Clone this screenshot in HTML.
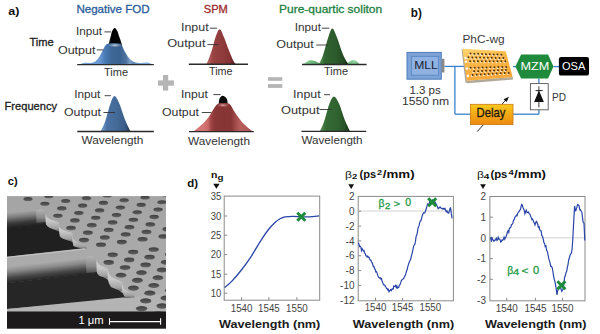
<!DOCTYPE html>
<html><head><meta charset="utf-8"><style>
html,body{margin:0;padding:0;background:#fff;width:600px;height:334px;overflow:hidden}
svg{display:block}
text{font-family:"Liberation Sans", sans-serif}
</style></head><body>
<svg width="600" height="334" viewBox="0 0 600 334">
<defs><linearGradient id="gb1" gradientUnits="userSpaceOnUse" x1="78" y1="0" x2="154" y2="0"><stop offset="0.000" stop-color="#7aa8d8"/><stop offset="0.184" stop-color="#6a9ad4"/><stop offset="0.289" stop-color="#6896d0"/><stop offset="0.355" stop-color="#4a7ab6"/><stop offset="0.434" stop-color="#3e6898"/><stop offset="0.553" stop-color="#3a6290"/><stop offset="0.632" stop-color="#4d72a0"/><stop offset="0.684" stop-color="#7d9ec4"/><stop offset="0.737" stop-color="#5b82b2"/><stop offset="0.816" stop-color="#7aa6d6"/><stop offset="1.000" stop-color="#7aa8d8"/></linearGradient><linearGradient id="gblk" gradientUnits="userSpaceOnUse" x1="108" y1="0" x2="123" y2="0"><stop offset="0.000" stop-color="#2a2a2a"/><stop offset="0.267" stop-color="#000"/><stop offset="0.800" stop-color="#050505"/><stop offset="1.000" stop-color="#333"/></linearGradient><radialGradient id="hl1"><stop offset="0" stop-color="#d4dae2" stop-opacity="0.9"/><stop offset="1" stop-color="#9ab0c8" stop-opacity="0"/></radialGradient><linearGradient id="gr1" gradientUnits="userSpaceOnUse" x1="206" y1="0" x2="236" y2="0"><stop offset="0.000" stop-color="#c07070"/><stop offset="0.100" stop-color="#b05a5a"/><stop offset="0.233" stop-color="#984242"/><stop offset="0.600" stop-color="#8e3a3a"/><stop offset="0.800" stop-color="#843232"/><stop offset="0.900" stop-color="#6a2222"/><stop offset="1.000" stop-color="#3a1010"/></linearGradient><linearGradient id="gg1" gradientUnits="userSpaceOnUse" x1="318" y1="0" x2="349" y2="0"><stop offset="0.000" stop-color="#5a9a5a"/><stop offset="0.097" stop-color="#4a864a"/><stop offset="0.226" stop-color="#31642f"/><stop offset="0.581" stop-color="#2c5a2c"/><stop offset="0.839" stop-color="#234a23"/><stop offset="0.935" stop-color="#163016"/><stop offset="1.000" stop-color="#102010"/></linearGradient><linearGradient id="glob" gradientUnits="userSpaceOnUse" x1="303" y1="0" x2="360" y2="0"><stop offset="0.000" stop-color="#9ad6a6"/><stop offset="0.123" stop-color="#74c084"/><stop offset="0.263" stop-color="#5aa86a"/><stop offset="0.789" stop-color="#74c084"/><stop offset="0.912" stop-color="#8ad09a"/><stop offset="1.000" stop-color="#5aa86a"/></linearGradient><linearGradient id="gb2" gradientUnits="userSpaceOnUse" x1="100" y1="0" x2="131" y2="0"><stop offset="0.000" stop-color="#7aa2d2"/><stop offset="0.097" stop-color="#6890c4"/><stop offset="0.226" stop-color="#4c72a4"/><stop offset="0.581" stop-color="#426896"/><stop offset="0.806" stop-color="#3a5c88"/><stop offset="0.919" stop-color="#2a4468"/><stop offset="1.000" stop-color="#142038"/></linearGradient><linearGradient id="gr2" gradientUnits="userSpaceOnUse" x1="193" y1="0" x2="253" y2="0"><stop offset="0.000" stop-color="#d27474"/><stop offset="0.167" stop-color="#d47676"/><stop offset="0.250" stop-color="#ca6868"/><stop offset="0.300" stop-color="#a04444"/><stop offset="0.367" stop-color="#883636"/><stop offset="0.633" stop-color="#863434"/><stop offset="0.700" stop-color="#a04a4a"/><stop offset="0.783" stop-color="#b65c5c"/><stop offset="0.917" stop-color="#b05656"/><stop offset="1.000" stop-color="#904040"/></linearGradient><radialGradient id="hl2"><stop offset="0" stop-color="#e8b4b4" stop-opacity="0.9"/><stop offset="1" stop-color="#c07070" stop-opacity="0"/></radialGradient><linearGradient id="gg2" gradientUnits="userSpaceOnUse" x1="319" y1="0" x2="351" y2="0"><stop offset="0.000" stop-color="#5a965a"/><stop offset="0.094" stop-color="#4a824a"/><stop offset="0.219" stop-color="#346a34"/><stop offset="0.594" stop-color="#306230"/><stop offset="0.812" stop-color="#285028"/><stop offset="0.922" stop-color="#183418"/><stop offset="1.000" stop-color="#0a180a"/></linearGradient><linearGradient id="gchip" x1="0" y1="0" x2="0.4" y2="1"><stop offset="0" stop-color="#ffd870"/><stop offset="0.45" stop-color="#fbb848"/><stop offset="1" stop-color="#f5a838"/></linearGradient><linearGradient id="gdelay" x1="0" y1="0" x2="0" y2="1"><stop offset="0" stop-color="#f9c81e"/><stop offset="1" stop-color="#ec8a10"/></linearGradient><clipPath id="semclip"><rect x="7" y="196.1" width="159" height="115.5"/></clipPath><linearGradient id="gsurf" x1="0" y1="0" x2="0" y2="1"><stop offset="0" stop-color="#a4a4a4"/><stop offset="1" stop-color="#b0b0b0"/></linearGradient><linearGradient id="gw1" x1="0" y1="0" x2="0" y2="1"><stop offset="0" stop-color="#a2a2a2"/><stop offset="0.3" stop-color="#7e7e7e"/><stop offset="0.7" stop-color="#3c3c3c"/><stop offset="1" stop-color="#232323"/></linearGradient><linearGradient id="gw2" x1="0" y1="0" x2="0" y2="1"><stop offset="0" stop-color="#a8a8a8"/><stop offset="0.3" stop-color="#8a8a8a"/><stop offset="0.7" stop-color="#474747"/><stop offset="1" stop-color="#282828"/></linearGradient><linearGradient id="gst" x1="0" y1="0" x2="0" y2="1"><stop offset="0" stop-color="#cacaca"/><stop offset="0.6" stop-color="#b4b4b4"/><stop offset="1" stop-color="#7a7a7a"/></linearGradient><linearGradient id="ghole" x1="0" y1="0" x2="0" y2="1"><stop offset="0" stop-color="#3e3e3e"/><stop offset="1" stop-color="#606060"/></linearGradient><linearGradient id="gface" x1="0" y1="0" x2="0" y2="1"><stop offset="0" stop-color="#dadada"/><stop offset="0.5" stop-color="#c6c6c6"/><stop offset="0.85" stop-color="#a2a2a2"/><stop offset="1" stop-color="#707070"/></linearGradient><linearGradient id="gw1u" gradientUnits="userSpaceOnUse" x1="25" y1="211.2" x2="26.5" y2="226.5"><stop offset="0" stop-color="#a4a4a4"/><stop offset="0.3" stop-color="#7e7e7e"/><stop offset="0.7" stop-color="#3a3a3a"/><stop offset="1" stop-color="#202020"/></linearGradient><linearGradient id="gnotch" x1="0" y1="0" x2="0" y2="1"><stop offset="0" stop-color="#b4b4b4"/><stop offset="0.6" stop-color="#8a8a8a"/><stop offset="1" stop-color="#505050"/></linearGradient><linearGradient id="gw2u" gradientUnits="userSpaceOnUse" x1="50" y1="262.0" x2="51.8" y2="278.0"><stop offset="0" stop-color="#aaaaaa"/><stop offset="0.3" stop-color="#8a8a8a"/><stop offset="0.7" stop-color="#464646"/><stop offset="1" stop-color="#262626"/></linearGradient></defs>
<text x="8.2" y="15.2" font-size="11.5" fill="#111" font-weight="bold" textLength="11.2" lengthAdjust="spacingAndGlyphs" >a)</text>
<text x="76.4" y="13.1" font-size="11.2" fill="#2b5c9a" font-weight="normal" textLength="73.3" lengthAdjust="spacingAndGlyphs"  stroke="#2b5c9a" stroke-width="0.3">Negative FOD</text>
<text x="203.8" y="13.2" font-size="11.2" fill="#9a2a2a" font-weight="normal" textLength="24.0" lengthAdjust="spacingAndGlyphs"  stroke="#9a2a2a" stroke-width="0.3">SPM</text>
<text x="279.1" y="13.2" font-size="11.2" fill="#1e8040" font-weight="normal" textLength="103.1" lengthAdjust="spacingAndGlyphs"  stroke="#1e8040" stroke-width="0.3">Pure-quartic soliton</text>
<text x="29.4" y="45.6" font-size="11.6" fill="#1a1a1a" font-weight="normal" textLength="24.3" lengthAdjust="spacingAndGlyphs"  stroke="#1a1a1a" stroke-width="0.3">Time</text>
<text x="4.6" y="110.0" font-size="11.6" fill="#1a1a1a" font-weight="normal" textLength="52.4" lengthAdjust="spacingAndGlyphs"  stroke="#1a1a1a" stroke-width="0.3">Frequency</text>
<path d="M108.30,46.00 C108.48,45.17 108.98,42.67 109.40,41.00 C109.82,39.33 110.33,37.67 110.80,36.00 C111.27,34.33 111.55,32.33 112.20,31.00 C112.85,29.67 113.85,28.00 114.70,28.00 C115.55,28.00 116.58,29.67 117.30,31.00 C118.02,32.33 118.42,34.33 119.00,36.00 C119.58,37.67 120.25,39.33 120.80,41.00 C121.35,42.67 122.05,45.17 122.30,46.00 Z" fill="url(#gblk)" />
<path d="M79.00,64.40 C79.83,64.15 82.33,63.13 84.00,62.90 C85.67,62.67 87.25,63.15 89.00,63.00 C90.75,62.85 92.92,62.83 94.50,62.00 C96.08,61.17 97.17,59.83 98.50,58.00 C99.83,56.17 101.33,53.13 102.50,51.00 C103.67,48.87 104.42,46.43 105.50,45.20 C106.58,43.97 107.58,43.93 109.00,43.60 C110.42,43.27 112.25,43.20 114.00,43.20 C115.75,43.20 118.20,43.27 119.50,43.60 C120.80,43.93 120.97,43.97 121.80,45.20 C122.63,46.43 123.30,48.87 124.50,51.00 C125.70,53.13 127.42,56.17 129.00,58.00 C130.58,59.83 132.17,61.18 134.00,62.00 C135.83,62.82 137.83,62.80 140.00,62.90 C142.17,63.00 144.83,62.35 147.00,62.60 C149.17,62.85 152.00,64.10 153.00,64.40 Z" fill="url(#gb1)" />
<ellipse cx="115" cy="45.2" rx="7" ry="2.2" fill="url(#hl1)"/>
<line x1="77.2" y1="64.6" x2="153.8" y2="64.6" stroke="#2a2a2a" stroke-width="1.4" />
<text x="75.9" y="34.9" font-size="10.0" fill="#333" font-weight="normal" textLength="26.0" lengthAdjust="spacingAndGlyphs" >Input</text>
<line x1="104.4" y1="31.9" x2="111.1" y2="31.9" stroke="#333" stroke-width="0.9" />
<text x="57.9" y="53.7" font-size="10.0" fill="#333" font-weight="normal" textLength="37.6" lengthAdjust="spacingAndGlyphs" >Output</text>
<line x1="96.7" y1="49.9" x2="103.7" y2="49.9" stroke="#333" stroke-width="0.9" />
<text x="104.0" y="75.6" font-size="10.4" fill="#333" font-weight="normal" textLength="24.0" lengthAdjust="spacingAndGlyphs" >Time</text>
<path d="M206.00,64.30 C206.33,63.72 207.03,63.13 208.00,60.80 C208.97,58.47 210.55,54.23 211.80,50.30 C213.05,46.37 214.18,40.72 215.50,37.20 C216.82,33.68 218.28,29.20 219.70,29.20 C221.12,29.20 222.47,33.68 224.00,37.20 C225.53,40.72 227.35,46.37 228.90,50.30 C230.45,54.23 232.12,58.47 233.30,60.80 C234.48,63.13 235.55,63.72 236.00,64.30 Z" fill="url(#gr1)" />
<line x1="188.8" y1="64.3" x2="248" y2="64.3" stroke="#2a2a2a" stroke-width="1.4" />
<text x="181.0" y="31.1" font-size="10.0" fill="#333" font-weight="normal" textLength="27.6" lengthAdjust="spacingAndGlyphs" >Input</text>
<line x1="209.8" y1="28.2" x2="217.0" y2="28.2" stroke="#333" stroke-width="0.9" />
<text x="167.2" y="47.4" font-size="10.0" fill="#333" font-weight="normal" textLength="38.3" lengthAdjust="spacingAndGlyphs" >Output</text>
<line x1="207.4" y1="44.6" x2="218.5" y2="44.6" stroke="#333" stroke-width="0.9" />
<text x="209.0" y="75.4" font-size="10.4" fill="#333" font-weight="normal" textLength="23.5" lengthAdjust="spacingAndGlyphs" >Time</text>
<path d="M303.50,64.30 C304.08,63.85 305.83,62.27 307.00,61.60 C308.17,60.93 309.33,60.43 310.50,60.30 C311.67,60.17 312.75,60.43 314.00,60.80 C315.25,61.17 316.83,61.92 318.00,62.50 C319.17,63.08 320.50,64.00 321.00,64.30 Z" fill="url(#glob)" />
<path d="M346.00,64.30 C346.67,63.78 348.77,61.87 350.00,61.20 C351.23,60.53 352.32,60.28 353.40,60.30 C354.48,60.32 355.48,60.63 356.50,61.30 C357.52,61.97 359.00,63.80 359.50,64.30 Z" fill="url(#glob)" />
<path d="M318.80,64.30 C319.30,63.30 320.87,60.62 321.80,58.30 C322.73,55.98 323.32,53.92 324.40,50.40 C325.48,46.88 326.98,40.85 328.30,37.20 C329.62,33.55 330.87,28.50 332.30,28.50 C333.73,28.50 335.37,33.55 336.90,37.20 C338.43,40.85 340.18,46.88 341.50,50.40 C342.82,53.92 343.65,55.98 344.80,58.30 C345.95,60.62 347.80,63.30 348.40,64.30 Z" fill="url(#gg1)" />
<line x1="302" y1="64.5" x2="366.6" y2="64.5" stroke="#2a2a2a" stroke-width="1.4" />
<text x="294.7" y="30.6" font-size="10.0" fill="#333" font-weight="normal" textLength="26.3" lengthAdjust="spacingAndGlyphs" >Input</text>
<line x1="321.7" y1="28.2" x2="329.4" y2="28.2" stroke="#333" stroke-width="0.9" />
<text x="276.3" y="48.3" font-size="10.0" fill="#333" font-weight="normal" textLength="37.5" lengthAdjust="spacingAndGlyphs" >Output</text>
<line x1="316.2" y1="45.0" x2="328.2" y2="45.0" stroke="#333" stroke-width="0.9" />
<text x="324.0" y="75.4" font-size="10.4" fill="#333" font-weight="normal" textLength="24.0" lengthAdjust="spacingAndGlyphs" >Time</text>
<path d="M100.50,131.30 C101.05,130.25 102.80,127.38 103.80,125.00 C104.80,122.62 105.38,120.58 106.50,117.00 C107.62,113.42 109.17,107.00 110.50,103.50 C111.83,100.00 113.03,96.00 114.50,96.00 C115.97,96.00 117.72,100.00 119.30,103.50 C120.88,107.00 122.67,113.42 124.00,117.00 C125.33,120.58 126.22,122.62 127.30,125.00 C128.38,127.38 129.97,130.25 130.50,131.30 Z" fill="url(#gb2)" />
<line x1="77.3" y1="131.5" x2="153.9" y2="131.5" stroke="#2a2a2a" stroke-width="1.4" />
<text x="74.2" y="98.4" font-size="10.0" fill="#333" font-weight="normal" textLength="26.2" lengthAdjust="spacingAndGlyphs" >Input</text>
<line x1="104.6" y1="95.7" x2="110.9" y2="95.7" stroke="#333" stroke-width="0.9" />
<text x="64.0" y="115.6" font-size="10.0" fill="#333" font-weight="normal" textLength="37.0" lengthAdjust="spacingAndGlyphs" >Output</text>
<line x1="103.5" y1="112.5" x2="115.0" y2="112.5" stroke="#333" stroke-width="0.9" />
<text x="81.5" y="144.0" font-size="10.4" fill="#333" font-weight="normal" textLength="61.9" lengthAdjust="spacingAndGlyphs" >Wavelength</text>
<path d="M218.80,104.60 C218.90,103.67 218.75,100.47 219.40,99.00 C220.05,97.53 221.45,95.80 222.70,95.80 C223.95,95.80 226.08,97.53 226.90,99.00 C227.72,100.47 227.48,103.67 227.60,104.60 Z" fill="#0d0d0d" />
<path d="M193.50,131.40 C195.08,130.07 200.47,125.80 203.00,123.40 C205.53,121.00 207.12,119.10 208.70,117.00 C210.28,114.90 211.03,112.97 212.50,110.80 C213.97,108.63 215.80,105.27 217.50,104.00 C219.20,102.73 220.70,103.20 222.70,103.20 C224.70,103.20 227.63,102.73 229.50,104.00 C231.37,105.27 232.45,108.63 233.90,110.80 C235.35,112.97 236.63,114.90 238.20,117.00 C239.77,119.10 240.92,121.00 243.30,123.40 C245.68,125.80 250.97,130.07 252.50,131.40 Z" fill="url(#gr2)" />
<ellipse cx="223" cy="105.2" rx="6.5" ry="2.2" fill="url(#hl2)"/>
<line x1="189" y1="131.6" x2="253.8" y2="131.6" stroke="#2a2a2a" stroke-width="1.4" />
<text x="181.0" y="97.5" font-size="10.0" fill="#333" font-weight="normal" textLength="27.0" lengthAdjust="spacingAndGlyphs" >Input</text>
<line x1="213.4" y1="94.6" x2="220.6" y2="94.6" stroke="#333" stroke-width="0.9" />
<text x="162.0" y="115.5" font-size="10.0" fill="#333" font-weight="normal" textLength="37.0" lengthAdjust="spacingAndGlyphs" >Output</text>
<line x1="201.8" y1="112.5" x2="211.3" y2="112.5" stroke="#333" stroke-width="0.9" />
<text x="188.0" y="144.6" font-size="10.4" fill="#333" font-weight="normal" textLength="62.0" lengthAdjust="spacingAndGlyphs" >Wavelength</text>
<path d="M319.80,131.30 C320.30,130.25 321.85,127.38 322.80,125.00 C323.75,122.62 324.38,120.58 325.50,117.00 C326.62,113.42 328.08,106.93 329.50,103.50 C330.92,100.07 332.42,96.40 334.00,96.40 C335.58,96.40 337.38,100.07 339.00,103.50 C340.62,106.93 342.37,113.42 343.70,117.00 C345.03,120.58 345.95,122.62 347.00,125.00 C348.05,127.38 349.50,130.25 350.00,131.30 Z" fill="url(#gg2)" />
<line x1="301.5" y1="131.4" x2="366.2" y2="131.4" stroke="#2a2a2a" stroke-width="1.4" />
<text x="293.1" y="98.3" font-size="10.0" fill="#333" font-weight="normal" textLength="27.6" lengthAdjust="spacingAndGlyphs" >Input</text>
<line x1="324" y1="94.7" x2="330" y2="94.7" stroke="#333" stroke-width="0.9" />
<text x="281.0" y="114.3" font-size="10.0" fill="#333" font-weight="normal" textLength="38.5" lengthAdjust="spacingAndGlyphs" >Output</text>
<line x1="319.5" y1="109.5" x2="331.4" y2="109.5" stroke="#333" stroke-width="0.9" />
<text x="301.5" y="144.3" font-size="10.4" fill="#333" font-weight="normal" textLength="61.1" lengthAdjust="spacingAndGlyphs" >Wavelength</text>
<rect x="163.0" y="75.0" width="5.2" height="15.6" fill="#b5b5b5"/>
<rect x="158.0" y="80.4" width="15.9" height="5.3" fill="#b5b5b5"/>
<rect x="268" y="77.2" width="14.3" height="3.6" fill="#b5b5b5"/>
<rect x="268" y="84.1" width="14.3" height="3.8" fill="#b5b5b5"/>
<text x="410.8" y="16.9" font-size="12.0" fill="#111" font-weight="bold" textLength="11.0" lengthAdjust="spacingAndGlyphs" >b)</text>
<text x="462.4" y="43.2" font-size="11.0" fill="#3a3a3a" font-weight="normal" textLength="42.2" lengthAdjust="spacingAndGlyphs" >PhC-wg</text>
<line x1="444.4" y1="66.4" x2="464" y2="66.4" stroke="#3a82cc" stroke-width="1.3" />
<line x1="454.9" y1="66.4" x2="454.9" y2="114.2" stroke="#3a82cc" stroke-width="1.3" />
<line x1="454.9" y1="114.2" x2="470.4" y2="114.2" stroke="#3a82cc" stroke-width="1.3" />
<line x1="513" y1="114.2" x2="538.9" y2="114.2" stroke="#3a82cc" stroke-width="1.3" />
<line x1="538.9" y1="114.2" x2="538.9" y2="110" stroke="#3a82cc" stroke-width="1.3" />
<line x1="538.9" y1="78.6" x2="538.9" y2="83.4" stroke="#3a82cc" stroke-width="1.3" />
<line x1="513" y1="66.6" x2="516" y2="66.6" stroke="#3a82cc" stroke-width="1.3" />
<line x1="553.5" y1="66.6" x2="559" y2="66.6" stroke="#3a82cc" stroke-width="1.3" />
<rect x="407" y="52.4" width="34.3" height="26.8" fill="#7ea3d6" stroke="#4d7fbf" stroke-width="1"/>
<rect x="411.6" y="56.4" width="27" height="18.8" fill="#8fb2e2" stroke="#5a88c4" stroke-width="0.9"/>
<rect x="441.5" y="58.8" width="2.9" height="13.7" fill="#888"/>
<text x="414.2" y="69.3" font-size="11.0" fill="#1a2030" font-weight="normal" textLength="23.5" lengthAdjust="spacingAndGlyphs" >MLL</text>
<text x="409.4" y="94.0" font-size="10.6" fill="#333" font-weight="normal" textLength="31.4" lengthAdjust="spacingAndGlyphs" >1.3 ps</text>
<text x="402.0" y="105.3" font-size="10.6" fill="#333" font-weight="normal" textLength="47.2" lengthAdjust="spacingAndGlyphs" >1550 nm</text>
<polygon points="461.6,49.6 463.5,48.6 467,80.8 512.7,77.1 513,79.5 467.5,83.2 465.5,82.5" fill="#b0a898"/>
<polygon points="462.4,48.8 505.8,51.3 512.7,77.1 466.8,80.8" fill="url(#gchip)"/>
<circle cx="469.75" cy="54.46" r="1.05" fill="#fffaf0" opacity="0.9"/><circle cx="470.45" cy="53.56" r="1.0" fill="#5a3408"/><circle cx="473.60" cy="54.60" r="1.05" fill="#fffaf0" opacity="0.9"/><circle cx="474.30" cy="53.70" r="1.0" fill="#5a3408"/><circle cx="477.45" cy="54.74" r="1.05" fill="#fffaf0" opacity="0.9"/><circle cx="478.15" cy="53.84" r="1.0" fill="#5a3408"/><circle cx="481.30" cy="54.89" r="1.05" fill="#fffaf0" opacity="0.9"/><circle cx="482.00" cy="53.99" r="1.0" fill="#5a3408"/><circle cx="485.15" cy="55.03" r="1.05" fill="#fffaf0" opacity="0.9"/><circle cx="485.85" cy="54.13" r="1.0" fill="#5a3408"/><circle cx="489.00" cy="55.18" r="1.05" fill="#fffaf0" opacity="0.9"/><circle cx="489.70" cy="54.28" r="1.0" fill="#5a3408"/><circle cx="492.85" cy="55.32" r="1.05" fill="#fffaf0" opacity="0.9"/><circle cx="493.55" cy="54.42" r="1.0" fill="#5a3408"/><circle cx="496.70" cy="55.46" r="1.05" fill="#fffaf0" opacity="0.9"/><circle cx="497.40" cy="54.56" r="1.0" fill="#5a3408"/><circle cx="500.55" cy="55.61" r="1.05" fill="#fffaf0" opacity="0.9"/><circle cx="501.25" cy="54.71" r="1.0" fill="#5a3408"/><circle cx="467.71" cy="58.27" r="1.05" fill="#fffaf0" opacity="0.9"/><circle cx="468.41" cy="57.37" r="1.0" fill="#5a3408"/><circle cx="471.59" cy="58.35" r="1.05" fill="#fffaf0" opacity="0.9"/><circle cx="472.29" cy="57.45" r="1.0" fill="#5a3408"/><circle cx="475.47" cy="58.43" r="1.05" fill="#fffaf0" opacity="0.9"/><circle cx="476.17" cy="57.53" r="1.0" fill="#5a3408"/><circle cx="479.35" cy="58.50" r="1.05" fill="#fffaf0" opacity="0.9"/><circle cx="480.05" cy="57.60" r="1.0" fill="#5a3408"/><circle cx="483.22" cy="58.58" r="1.05" fill="#fffaf0" opacity="0.9"/><circle cx="483.92" cy="57.68" r="1.0" fill="#5a3408"/><circle cx="487.10" cy="58.65" r="1.05" fill="#fffaf0" opacity="0.9"/><circle cx="487.80" cy="57.75" r="1.0" fill="#5a3408"/><circle cx="490.98" cy="58.73" r="1.05" fill="#fffaf0" opacity="0.9"/><circle cx="491.68" cy="57.83" r="1.0" fill="#5a3408"/><circle cx="494.86" cy="58.80" r="1.05" fill="#fffaf0" opacity="0.9"/><circle cx="495.56" cy="57.90" r="1.0" fill="#5a3408"/><circle cx="498.73" cy="58.88" r="1.05" fill="#fffaf0" opacity="0.9"/><circle cx="499.43" cy="57.98" r="1.0" fill="#5a3408"/><circle cx="502.61" cy="58.95" r="1.05" fill="#fffaf0" opacity="0.9"/><circle cx="503.31" cy="58.05" r="1.0" fill="#5a3408"/><circle cx="465.42" cy="57.95" r="1.3" fill="#fff" opacity="0.85"/><circle cx="469.38" cy="62.04" r="1.05" fill="#fffaf0" opacity="0.9"/><circle cx="470.08" cy="61.14" r="1.0" fill="#5a3408"/><circle cx="473.29" cy="62.05" r="1.05" fill="#fffaf0" opacity="0.9"/><circle cx="473.99" cy="61.15" r="1.0" fill="#5a3408"/><circle cx="477.19" cy="62.06" r="1.05" fill="#fffaf0" opacity="0.9"/><circle cx="477.89" cy="61.16" r="1.0" fill="#5a3408"/><circle cx="481.09" cy="62.07" r="1.05" fill="#fffaf0" opacity="0.9"/><circle cx="481.79" cy="61.17" r="1.0" fill="#5a3408"/><circle cx="485.00" cy="62.08" r="1.05" fill="#fffaf0" opacity="0.9"/><circle cx="485.70" cy="61.18" r="1.0" fill="#5a3408"/><circle cx="488.90" cy="62.08" r="1.05" fill="#fffaf0" opacity="0.9"/><circle cx="489.60" cy="61.18" r="1.0" fill="#5a3408"/><circle cx="492.81" cy="62.09" r="1.05" fill="#fffaf0" opacity="0.9"/><circle cx="493.51" cy="61.19" r="1.0" fill="#5a3408"/><circle cx="496.71" cy="62.10" r="1.05" fill="#fffaf0" opacity="0.9"/><circle cx="497.41" cy="61.20" r="1.0" fill="#5a3408"/><circle cx="500.61" cy="62.11" r="1.05" fill="#fffaf0" opacity="0.9"/><circle cx="501.31" cy="61.21" r="1.0" fill="#5a3408"/><circle cx="504.52" cy="62.12" r="1.05" fill="#fffaf0" opacity="0.9"/><circle cx="505.22" cy="61.22" r="1.0" fill="#5a3408"/><circle cx="465.96" cy="61.76" r="1.3" fill="#fff" opacity="0.85"/><circle cx="469.95" cy="68.75" r="1.05" fill="#fffaf0" opacity="0.9"/><circle cx="470.65" cy="67.85" r="1.0" fill="#5a3408"/><circle cx="473.90" cy="68.64" r="1.05" fill="#fffaf0" opacity="0.9"/><circle cx="474.60" cy="67.74" r="1.0" fill="#5a3408"/><circle cx="477.85" cy="68.53" r="1.05" fill="#fffaf0" opacity="0.9"/><circle cx="478.55" cy="67.63" r="1.0" fill="#5a3408"/><circle cx="481.81" cy="68.43" r="1.05" fill="#fffaf0" opacity="0.9"/><circle cx="482.51" cy="67.53" r="1.0" fill="#5a3408"/><circle cx="485.76" cy="68.32" r="1.05" fill="#fffaf0" opacity="0.9"/><circle cx="486.46" cy="67.42" r="1.0" fill="#5a3408"/><circle cx="489.71" cy="68.21" r="1.05" fill="#fffaf0" opacity="0.9"/><circle cx="490.41" cy="67.31" r="1.0" fill="#5a3408"/><circle cx="493.66" cy="68.10" r="1.05" fill="#fffaf0" opacity="0.9"/><circle cx="494.36" cy="67.20" r="1.0" fill="#5a3408"/><circle cx="497.61" cy="68.00" r="1.05" fill="#fffaf0" opacity="0.9"/><circle cx="498.31" cy="67.10" r="1.0" fill="#5a3408"/><circle cx="501.56" cy="67.89" r="1.05" fill="#fffaf0" opacity="0.9"/><circle cx="502.26" cy="66.99" r="1.0" fill="#5a3408"/><circle cx="505.51" cy="67.78" r="1.05" fill="#fffaf0" opacity="0.9"/><circle cx="506.21" cy="66.88" r="1.0" fill="#5a3408"/><circle cx="466.93" cy="68.59" r="1.3" fill="#fff" opacity="0.85"/><circle cx="473.43" cy="72.21" r="1.05" fill="#fffaf0" opacity="0.9"/><circle cx="474.13" cy="71.31" r="1.0" fill="#5a3408"/><circle cx="477.41" cy="72.04" r="1.05" fill="#fffaf0" opacity="0.9"/><circle cx="478.11" cy="71.14" r="1.0" fill="#5a3408"/><circle cx="481.38" cy="71.87" r="1.05" fill="#fffaf0" opacity="0.9"/><circle cx="482.08" cy="70.97" r="1.0" fill="#5a3408"/><circle cx="485.36" cy="71.70" r="1.05" fill="#fffaf0" opacity="0.9"/><circle cx="486.06" cy="70.80" r="1.0" fill="#5a3408"/><circle cx="489.34" cy="71.53" r="1.05" fill="#fffaf0" opacity="0.9"/><circle cx="490.04" cy="70.63" r="1.0" fill="#5a3408"/><circle cx="493.31" cy="71.36" r="1.05" fill="#fffaf0" opacity="0.9"/><circle cx="494.01" cy="70.46" r="1.0" fill="#5a3408"/><circle cx="497.29" cy="71.19" r="1.05" fill="#fffaf0" opacity="0.9"/><circle cx="497.99" cy="70.29" r="1.0" fill="#5a3408"/><circle cx="501.27" cy="71.02" r="1.05" fill="#fffaf0" opacity="0.9"/><circle cx="501.97" cy="70.12" r="1.0" fill="#5a3408"/><circle cx="505.24" cy="70.85" r="1.05" fill="#fffaf0" opacity="0.9"/><circle cx="505.94" cy="69.95" r="1.0" fill="#5a3408"/><circle cx="471.95" cy="75.88" r="1.05" fill="#fffaf0" opacity="0.9"/><circle cx="472.65" cy="74.98" r="1.0" fill="#5a3408"/><circle cx="475.95" cy="75.64" r="1.05" fill="#fffaf0" opacity="0.9"/><circle cx="476.65" cy="74.74" r="1.0" fill="#5a3408"/><circle cx="479.95" cy="75.41" r="1.05" fill="#fffaf0" opacity="0.9"/><circle cx="480.65" cy="74.51" r="1.0" fill="#5a3408"/><circle cx="483.95" cy="75.18" r="1.05" fill="#fffaf0" opacity="0.9"/><circle cx="484.65" cy="74.28" r="1.0" fill="#5a3408"/><circle cx="487.95" cy="74.94" r="1.05" fill="#fffaf0" opacity="0.9"/><circle cx="488.65" cy="74.04" r="1.0" fill="#5a3408"/><circle cx="491.95" cy="74.71" r="1.05" fill="#fffaf0" opacity="0.9"/><circle cx="492.65" cy="73.81" r="1.0" fill="#5a3408"/><circle cx="495.96" cy="74.48" r="1.05" fill="#fffaf0" opacity="0.9"/><circle cx="496.66" cy="73.58" r="1.0" fill="#5a3408"/><circle cx="499.96" cy="74.25" r="1.05" fill="#fffaf0" opacity="0.9"/><circle cx="500.66" cy="73.35" r="1.0" fill="#5a3408"/><circle cx="503.96" cy="74.01" r="1.05" fill="#fffaf0" opacity="0.9"/><circle cx="504.66" cy="73.11" r="1.0" fill="#5a3408"/><circle cx="507.96" cy="73.78" r="1.05" fill="#fffaf0" opacity="0.9"/><circle cx="508.66" cy="72.88" r="1.0" fill="#5a3408"/><circle cx="467.96" cy="75.89" r="1.3" fill="#fff" opacity="0.85"/>
<polygon points="515.4,66.6 521.1,54.4 548.1,54.4 553.5,66.6 548.1,78.6 521.1,78.6" fill="#1f8a3c"/>
<text x="520.4" y="69.6" font-size="11.0" fill="#fff" font-weight="normal" textLength="28.8" lengthAdjust="spacingAndGlyphs" >MZM</text>
<rect x="558.9" y="57" width="30.1" height="18.6" rx="2.2" fill="#000"/>
<text x="562.0" y="69.6" font-size="11.0" fill="#fff" font-weight="normal" textLength="23.4" lengthAdjust="spacingAndGlyphs" >OSA</text>
<rect x="530.4" y="83.6" width="17.8" height="26.2" fill="#fff" stroke="#555" stroke-width="0.9"/>
<line x1="538.9" y1="86.4" x2="538.9" y2="107.3" stroke="#222" stroke-width="0.9" />
<line x1="535.6" y1="90.6" x2="542.7" y2="90.6" stroke="#222" stroke-width="1.0" />
<polygon points="538.9,90.6 534.1,101.9 543.9,101.9" fill="#111"/>
<text x="552.0" y="100.5" font-size="10.6" fill="#333" font-weight="normal" textLength="14.0" lengthAdjust="spacingAndGlyphs" >PD</text>
<line x1="477.2" y1="131.6" x2="506.5" y2="99.2" stroke="#111" stroke-width="0.9" />
<polygon points="508.9,96.8 503.6,99.2 506.7,102.0" fill="#111"/>
<rect x="470.4" y="104.3" width="42.6" height="20.3" fill="url(#gdelay)" stroke="#c97a12" stroke-width="0.8"/>
<text x="476.5" y="117.4" font-size="12.2" fill="#22180a" font-weight="normal" textLength="28.8" lengthAdjust="spacingAndGlyphs"  stroke="#22180a" stroke-width="0.3">Delay</text>
<text x="7.8" y="184.5" font-size="11.5" fill="#111" font-weight="bold" textLength="9.9" lengthAdjust="spacingAndGlyphs" >c)</text>
<g clip-path="url(#semclip)"><rect x="7" y="196.1" width="159" height="115.5" fill="url(#gsurf)"/><polygon points="5.0,212.8 36.0,210.6 45.2,211.6 46.0,225.0 5.0,229.2" fill="url(#gw1u)"/><polygon points="5.0,228.8 45.6,224.5 58.7,231.2 72.2,241.7 85.0,248.4 5.0,257.0" fill="#202020"/><polygon points="36.0,210.8 38.5,209.6 42.0,209.3 45.2,211.7 46.0,222.0 36.5,223.0" fill="url(#gnotch)"/><polygon points="45.2,211.7 45.6,214.5 46.7,217.0 49.0,218.8 52.0,220.0 55.5,221.3 58.7,222.2 59.1,231.2 55.9,230.3 52.4,229.0 49.4,227.8 47.1,226.0 46.0,223.5 45.6,220.7" fill="url(#gface)"/><polygon points="58.7,222.2 59.0,225.0 59.5,227.5 61.5,229.2 64.7,230.4 68.5,231.8 72.2,232.7 72.6,241.7 68.9,240.8 65.1,239.4 61.9,238.2 59.9,236.5 59.4,234.0 59.1,231.2" fill="url(#gface)"/><polygon points="72.2,232.7 72.5,235.8 73.0,238.7 75.2,240.8 78.2,242.4 81.5,244.0 86.0,245.2 86.4,248.7 81.9,248.4 78.6,247.7 75.6,247.1 73.4,245.9 72.9,243.9 72.6,241.7" fill="url(#gface)"/><polygon points="5.0,266.5 88.0,257.0 96.2,258.2 97.0,273.2 5.0,283.5" fill="url(#gw2u)"/><polygon points="85.5,257.4 88.5,256.0 92.5,256.0 96.2,258.2 97.0,272.0 86.5,273.0" fill="url(#gnotch)"/><polygon points="5.0,283.2 97.0,272.8 107.5,279.5 121.7,292.4 133.0,298.5 5.0,309.2" fill="#262626"/><polygon points="96.2,258.2 96.8,261.5 98.5,264.2 100.5,265.5 103.0,266.5 105.5,267.7 107.5,268.7 107.9,278.7 105.9,278.0 103.4,277.2 100.9,276.5 98.9,275.5 97.2,273.2 96.6,270.2" fill="url(#gface)"/><polygon points="107.5,268.7 108.5,272.5 110.5,276.2 113.3,277.8 116.4,279.2 119.0,280.4 121.7,281.4 122.1,291.4 119.4,290.6 116.8,289.5 113.7,288.3 110.9,286.9 108.9,283.3 107.9,279.7" fill="url(#gface)"/><polygon points="121.7,281.4 122.5,285.0 124.0,289.0 126.0,290.3 128.4,291.2 131.0,292.0 134.0,292.7 134.4,297.7 131.4,297.7 128.8,297.5 126.4,297.3 124.4,296.7 122.9,293.3 122.1,290.4" fill="url(#gface)"/><polygon points="5.0,309.2 123.0,297.5 134.0,297.7 166.0,293.0 166.0,311.5 5.0,311.5" fill="#b4b4b4"/><path d="M5,257.6 L85,248.8" stroke="#c8c8c8" stroke-width="1.4" fill="none" opacity="0.8"/><ellipse cx="101.0" cy="244.8" rx="5.047899999999999" ry="2.31874" fill="url(#ghole)"/><ellipse cx="121.8" cy="242.1" rx="5.0206" ry="2.3023599999999997" fill="url(#ghole)"/><ellipse cx="142.6" cy="239.3" rx="4.9933" ry="2.28598" fill="url(#ghole)"/><ellipse cx="163.4" cy="236.6" rx="4.965999999999999" ry="2.2695999999999996" fill="url(#ghole)"/><ellipse cx="84.0" cy="240.1" rx="5.0009" ry="2.2905399999999996" fill="url(#ghole)"/><ellipse cx="104.8" cy="237.4" rx="4.973599999999999" ry="2.2741599999999997" fill="url(#ghole)"/><ellipse cx="125.7" cy="234.6" rx="4.9463" ry="2.25778" fill="url(#ghole)"/><ellipse cx="146.5" cy="231.9" rx="4.919" ry="2.2413999999999996" fill="url(#ghole)"/><ellipse cx="167.3" cy="229.2" rx="4.891699999999999" ry="2.2250199999999998" fill="url(#ghole)"/><ellipse cx="87.9" cy="232.7" rx="4.9266" ry="2.2459599999999997" fill="url(#ghole)"/><ellipse cx="108.7" cy="229.9" rx="4.899299999999999" ry="2.22958" fill="url(#ghole)"/><ellipse cx="129.5" cy="227.2" rx="4.872" ry="2.2131999999999996" fill="url(#ghole)"/><ellipse cx="150.3" cy="224.5" rx="4.8447" ry="2.1968199999999998" fill="url(#ghole)"/><ellipse cx="171.2" cy="221.7" rx="4.8174" ry="2.18044" fill="url(#ghole)"/><ellipse cx="71.0" cy="228.0" rx="4.8796" ry="2.2177599999999997" fill="url(#ghole)"/><ellipse cx="91.8" cy="225.2" rx="4.8523" ry="2.20138" fill="url(#ghole)"/><ellipse cx="112.6" cy="222.5" rx="4.824999999999999" ry="2.1849999999999996" fill="url(#ghole)"/><ellipse cx="133.4" cy="219.8" rx="4.7977" ry="2.1686199999999998" fill="url(#ghole)"/><ellipse cx="154.2" cy="217.0" rx="4.7703999999999995" ry="2.15224" fill="url(#ghole)"/><ellipse cx="74.9" cy="220.5" rx="4.8053" ry="2.17318" fill="url(#ghole)"/><ellipse cx="95.7" cy="217.8" rx="4.778" ry="2.1567999999999996" fill="url(#ghole)"/><ellipse cx="116.5" cy="215.1" rx="4.750699999999999" ry="2.1404199999999998" fill="url(#ghole)"/><ellipse cx="137.3" cy="212.3" rx="4.7234" ry="2.12404" fill="url(#ghole)"/><ellipse cx="158.1" cy="209.6" rx="4.6960999999999995" ry="2.1076599999999996" fill="url(#ghole)"/><ellipse cx="57.9" cy="215.8" rx="4.758299999999999" ry="2.14498" fill="url(#ghole)"/><ellipse cx="78.8" cy="213.1" rx="4.731" ry="2.1285999999999996" fill="url(#ghole)"/><ellipse cx="99.6" cy="210.4" rx="4.7036999999999995" ry="2.1122199999999998" fill="url(#ghole)"/><ellipse cx="120.4" cy="207.6" rx="4.676399999999999" ry="2.09584" fill="url(#ghole)"/><ellipse cx="141.2" cy="204.9" rx="4.6491" ry="2.0794599999999996" fill="url(#ghole)"/><ellipse cx="162.0" cy="202.2" rx="4.6217999999999995" ry="2.06308" fill="url(#ghole)"/><ellipse cx="61.8" cy="208.4" rx="4.683999999999999" ry="2.1003999999999996" fill="url(#ghole)"/><ellipse cx="82.6" cy="205.7" rx="4.6567" ry="2.0840199999999998" fill="url(#ghole)"/><ellipse cx="103.4" cy="202.9" rx="4.6293999999999995" ry="2.06764" fill="url(#ghole)"/><ellipse cx="124.2" cy="200.2" rx="4.602099999999999" ry="2.0512599999999996" fill="url(#ghole)"/><ellipse cx="145.1" cy="197.5" rx="4.5748" ry="2.03488" fill="url(#ghole)"/><ellipse cx="165.9" cy="194.8" rx="4.547499999999999" ry="2.0185" fill="url(#ghole)"/><ellipse cx="44.9" cy="203.7" rx="4.637" ry="2.0721999999999996" fill="url(#ghole)"/><ellipse cx="65.7" cy="201.0" rx="4.609699999999999" ry="2.0558199999999998" fill="url(#ghole)"/><ellipse cx="86.5" cy="198.2" rx="4.5824" ry="2.03944" fill="url(#ghole)"/><ellipse cx="107.3" cy="195.5" rx="4.5550999999999995" ry="2.0230599999999996" fill="url(#ghole)"/><ellipse cx="128.1" cy="192.8" rx="4.5278" ry="2.00668" fill="url(#ghole)"/><ellipse cx="148.9" cy="190.1" rx="4.5005" ry="1.9903" fill="url(#ghole)"/><ellipse cx="28.0" cy="199.0" rx="4.59" ry="2.044" fill="url(#ghole)"/><ellipse cx="48.8" cy="196.3" rx="4.5626999999999995" ry="2.0276199999999998" fill="url(#ghole)"/><ellipse cx="69.6" cy="193.5" rx="4.535399999999999" ry="2.01124" fill="url(#ghole)"/><ellipse cx="90.4" cy="190.8" rx="4.5081" ry="1.9948599999999999" fill="url(#ghole)"/><ellipse cx="31.8" cy="191.6" rx="4.5157" ry="1.9994199999999998" fill="url(#ghole)"/><ellipse cx="112.7" cy="254.8" rx="5.1480999999999995" ry="2.37886" fill="url(#ghole)"/><ellipse cx="133.2" cy="252.1" rx="5.1213999999999995" ry="2.36284" fill="url(#ghole)"/><ellipse cx="153.7" cy="249.5" rx="5.0947" ry="2.3468199999999997" fill="url(#ghole)"/><ellipse cx="174.2" cy="246.8" rx="5.068" ry="2.3308" fill="url(#ghole)"/><ellipse cx="108.7" cy="262.5" rx="5.2254" ry="2.42524" fill="url(#ghole)"/><ellipse cx="129.2" cy="259.9" rx="5.1987" ry="2.40922" fill="url(#ghole)"/><ellipse cx="149.6" cy="257.2" rx="5.172" ry="2.3931999999999998" fill="url(#ghole)"/><ellipse cx="170.1" cy="254.5" rx="5.1453" ry="2.37718" fill="url(#ghole)"/><ellipse cx="125.1" cy="267.6" rx="5.276" ry="2.4556" fill="url(#ghole)"/><ellipse cx="145.6" cy="264.9" rx="5.2493" ry="2.43958" fill="url(#ghole)"/><ellipse cx="166.1" cy="262.3" rx="5.2226" ry="2.4235599999999997" fill="url(#ghole)"/><ellipse cx="121.0" cy="275.3" rx="5.3533" ry="2.50198" fill="url(#ghole)"/><ellipse cx="141.5" cy="272.7" rx="5.3266" ry="2.48596" fill="url(#ghole)"/><ellipse cx="162.0" cy="270.0" rx="5.2999" ry="2.46994" fill="url(#ghole)"/><ellipse cx="137.4" cy="280.4" rx="5.403899999999999" ry="2.5323399999999996" fill="url(#ghole)"/><ellipse cx="157.9" cy="277.7" rx="5.3772" ry="2.51632" fill="url(#ghole)"/><ellipse cx="133.4" cy="288.1" rx="5.481199999999999" ry="2.5787199999999997" fill="url(#ghole)"/><ellipse cx="153.8" cy="285.5" rx="5.4545" ry="2.5627" fill="url(#ghole)"/><ellipse cx="174.3" cy="282.8" rx="5.4277999999999995" ry="2.54668" fill="url(#ghole)"/><ellipse cx="149.8" cy="293.2" rx="5.5318" ry="2.6090799999999996" fill="url(#ghole)"/><ellipse cx="170.3" cy="290.5" rx="5.5051" ry="2.59306" fill="url(#ghole)"/><ellipse cx="145.7" cy="300.9" rx="5.6091" ry="2.6554599999999997" fill="url(#ghole)"/><ellipse cx="166.2" cy="298.2" rx="5.5824" ry="2.63944" fill="url(#ghole)"/><ellipse cx="141.6" cy="308.6" rx="5.686399999999999" ry="2.70184" fill="url(#ghole)"/><ellipse cx="162.1" cy="306.0" rx="5.6597" ry="2.68582" fill="url(#ghole)"/><ellipse cx="158.1" cy="313.7" rx="5.737" ry="2.7321999999999997" fill="url(#ghole)"/></g>
<rect x="7" y="311.4" width="159" height="17.3" fill="#1c1a1a"/>
<text x="78.5" y="324.0" font-size="11.0" fill="#fff" font-weight="normal" textLength="25.2" lengthAdjust="spacingAndGlyphs" >1 μm</text>
<line x1="109" y1="321.6" x2="161" y2="321.6" stroke="#fff" stroke-width="1.4" />
<line x1="109.5" y1="318.2" x2="109.5" y2="324.8" stroke="#fff" stroke-width="1.1" />
<line x1="160.6" y1="318.2" x2="160.6" y2="324.8" stroke="#fff" stroke-width="1.1" />
<text x="187.2" y="187.2" font-size="11.5" fill="#111" font-weight="bold" textLength="10.8" lengthAdjust="spacingAndGlyphs" >d)</text>
<rect x="224.2" y="196.1" width="95.5" height="104.1" fill="none" stroke="#8a8a8a" stroke-width="1"/>
<line x1="241.6" y1="300.2" x2="241.6" y2="297.2" stroke="#8a8a8a" stroke-width="1" />
<line x1="268.9" y1="300.2" x2="268.9" y2="297.2" stroke="#8a8a8a" stroke-width="1" />
<line x1="296.9" y1="300.2" x2="296.9" y2="297.2" stroke="#8a8a8a" stroke-width="1" />
<line x1="224.2" y1="216.0" x2="227.2" y2="216.0" stroke="#8a8a8a" stroke-width="1" />
<line x1="224.2" y1="235.2" x2="227.2" y2="235.2" stroke="#8a8a8a" stroke-width="1" />
<line x1="224.2" y1="254.6" x2="227.2" y2="254.6" stroke="#8a8a8a" stroke-width="1" />
<line x1="224.2" y1="274.2" x2="227.2" y2="274.2" stroke="#8a8a8a" stroke-width="1" />
<line x1="224.2" y1="293.2" x2="227.2" y2="293.2" stroke="#8a8a8a" stroke-width="1" />
<text x="221.3" y="199.7" font-size="10" fill="#444" font-weight="normal" textLength="10.6" lengthAdjust="spacingAndGlyphs" text-anchor="end">35</text>
<text x="221.3" y="219.6" font-size="10" fill="#444" font-weight="normal" textLength="10.6" lengthAdjust="spacingAndGlyphs" text-anchor="end">30</text>
<text x="221.3" y="238.8" font-size="10" fill="#444" font-weight="normal" textLength="10.6" lengthAdjust="spacingAndGlyphs" text-anchor="end">25</text>
<text x="221.3" y="258.2" font-size="10" fill="#444" font-weight="normal" textLength="10.6" lengthAdjust="spacingAndGlyphs" text-anchor="end">20</text>
<text x="221.3" y="277.8" font-size="10" fill="#444" font-weight="normal" textLength="10.6" lengthAdjust="spacingAndGlyphs" text-anchor="end">15</text>
<text x="221.3" y="296.8" font-size="10" fill="#444" font-weight="normal" textLength="10.6" lengthAdjust="spacingAndGlyphs" text-anchor="end">10</text>
<text x="241.6" y="312.1" font-size="10" fill="#444" font-weight="normal" textLength="21.6" lengthAdjust="spacingAndGlyphs" text-anchor="middle">1540</text>
<text x="268.9" y="312.1" font-size="10" fill="#444" font-weight="normal" textLength="21.6" lengthAdjust="spacingAndGlyphs" text-anchor="middle">1545</text>
<text x="296.9" y="312.1" font-size="10" fill="#444" font-weight="normal" textLength="21.6" lengthAdjust="spacingAndGlyphs" text-anchor="middle">1550</text>
<text x="219.0" y="328.1" font-size="10.8" fill="#1a1a1a" font-weight="bold" textLength="101.3" lengthAdjust="spacingAndGlyphs" >Wavelength (nm)</text>
<text x="211.0" y="177.7" font-size="8.8" fill="#111" font-weight="bold" textLength="6.4" lengthAdjust="spacingAndGlyphs" >n</text>
<text x="217.4" y="180.0" font-size="7.8" fill="#111" font-weight="bold" textLength="6.0" lengthAdjust="spacingAndGlyphs" >g</text>
<polygon points="213.20000000000002,183.8 219.6,183.8 216.4,188.8" fill="#111"/>
<path d="M224.60,287.60 C225.78,286.57 228.90,284.33 231.70,281.40 C234.50,278.47 238.17,274.13 241.40,270.00 C244.63,265.87 247.87,261.50 251.10,256.60 C254.33,251.70 257.90,245.12 260.80,240.60 C263.70,236.08 266.13,232.52 268.50,229.50 C270.87,226.48 273.08,224.28 275.00,222.50 C276.92,220.72 278.33,219.73 280.00,218.80 C281.67,217.87 282.80,217.32 285.00,216.90 C287.20,216.48 290.48,216.30 293.20,216.30 C295.92,216.30 298.60,216.82 301.30,216.90 C304.00,216.98 306.43,216.97 309.40,216.80 C312.37,216.63 317.48,216.05 319.10,215.90" fill="none" stroke="#2a45a8" stroke-width="1.3"/>
<path d="M297.3,212.7 L305.3,220.7 M297.3,220.7 L305.3,212.7" stroke="#1e8a3c" stroke-width="3.0" stroke-linecap="butt"/>
<rect x="358.2" y="196.4" width="95.19999999999999" height="104.4" fill="none" stroke="#8a8a8a" stroke-width="1"/>
<line x1="358.2" y1="211.0" x2="453.4" y2="211.0" stroke="#c8c8c8" stroke-width="0.8" />
<line x1="375.5" y1="300.8" x2="375.5" y2="297.8" stroke="#8a8a8a" stroke-width="1" />
<line x1="402.6" y1="300.8" x2="402.6" y2="297.8" stroke="#8a8a8a" stroke-width="1" />
<line x1="430.3" y1="300.8" x2="430.3" y2="297.8" stroke="#8a8a8a" stroke-width="1" />
<line x1="358.2" y1="211.24" x2="361.2" y2="211.24" stroke="#8a8a8a" stroke-width="1" />
<line x1="358.2" y1="226.08" x2="361.2" y2="226.08" stroke="#8a8a8a" stroke-width="1" />
<line x1="358.2" y1="240.92000000000002" x2="361.2" y2="240.92000000000002" stroke="#8a8a8a" stroke-width="1" />
<line x1="358.2" y1="255.76" x2="361.2" y2="255.76" stroke="#8a8a8a" stroke-width="1" />
<line x1="358.2" y1="270.6" x2="361.2" y2="270.6" stroke="#8a8a8a" stroke-width="1" />
<line x1="358.2" y1="285.44" x2="361.2" y2="285.44" stroke="#8a8a8a" stroke-width="1" />
<text x="354.5" y="200.0" font-size="10" fill="#444" font-weight="normal" text-anchor="end">2</text>
<text x="354.5" y="214.8" font-size="10" fill="#444" font-weight="normal" text-anchor="end">0</text>
<text x="354.5" y="229.7" font-size="10" fill="#444" font-weight="normal" text-anchor="end">-2</text>
<text x="354.5" y="244.5" font-size="10" fill="#444" font-weight="normal" text-anchor="end">-4</text>
<text x="354.5" y="259.4" font-size="10" fill="#444" font-weight="normal" text-anchor="end">-6</text>
<text x="354.5" y="274.2" font-size="10" fill="#444" font-weight="normal" text-anchor="end">-8</text>
<text x="354.5" y="289.0" font-size="10" fill="#444" font-weight="normal" text-anchor="end">-10</text>
<text x="354.5" y="303.9" font-size="10" fill="#444" font-weight="normal" text-anchor="end">-12</text>
<text x="375.5" y="311.4" font-size="10" fill="#444" font-weight="normal" textLength="21.6" lengthAdjust="spacingAndGlyphs" text-anchor="middle">1540</text>
<text x="402.6" y="311.4" font-size="10" fill="#444" font-weight="normal" textLength="21.6" lengthAdjust="spacingAndGlyphs" text-anchor="middle">1545</text>
<text x="430.3" y="311.4" font-size="10" fill="#444" font-weight="normal" textLength="21.6" lengthAdjust="spacingAndGlyphs" text-anchor="middle">1550</text>
<text x="352.8" y="327.7" font-size="10.8" fill="#1a1a1a" font-weight="bold" textLength="101.4" lengthAdjust="spacingAndGlyphs" >Wavelength (nm)</text>
<path d="M358.40,242.58 L359.02,244.52 L359.64,246.59 L360.26,246.40 L360.88,247.21 L361.50,250.46 L362.12,248.82 L362.75,249.61 L363.37,250.93 L363.99,250.66 L364.62,252.87 L365.24,253.76 L365.86,255.69 L366.48,255.88 L367.11,256.98 L367.73,256.18 L368.35,257.28 L368.98,257.18 L369.60,258.70 L370.22,260.07 L370.85,260.05 L371.47,262.01 L372.09,262.60 L372.72,264.48 L373.34,266.53 L373.96,266.47 L374.58,268.83 L375.21,269.37 L375.83,271.93 L376.45,271.77 L377.08,272.94 L377.70,275.18 L378.34,276.91 L378.98,277.53 L379.62,278.03 L380.26,277.78 L380.90,279.12 L381.54,278.56 L382.18,281.60 L382.82,282.91 L383.46,284.72 L384.10,285.17 L384.71,284.93 L385.33,286.46 L385.94,287.01 L386.55,288.44 L387.16,288.58 L387.77,290.07 L388.39,289.46 L389.00,291.77 L389.60,290.91 L390.20,290.08 L390.80,289.63 L391.40,290.47 L392.00,289.06 L392.60,288.92 L393.20,288.99 L393.80,285.98 L394.41,286.27 L395.02,286.47 L395.64,285.63 L396.25,287.58 L396.86,286.06 L397.48,288.03 L398.09,287.18 L398.70,287.50 L399.35,285.33 L400.00,284.61 L400.65,282.93 L401.30,280.73 L401.95,279.82 L402.60,279.54 L403.25,278.69 L403.90,278.17 L404.55,276.27 L405.20,275.68 L405.84,273.69 L406.48,271.04 L407.12,269.75 L407.76,266.93 L408.40,264.57 L409.04,262.82 L409.68,261.34 L410.32,259.98 L410.96,258.03 L411.60,255.13 L412.26,252.87 L412.92,249.67 L413.58,246.64 L414.24,244.91 L414.90,244.31 L415.50,241.13 L416.10,236.43 L416.70,235.34 L417.30,232.82 L417.90,228.86 L418.50,226.94 L419.10,225.68 L419.70,222.63 L420.36,220.87 L421.02,220.54 L421.68,217.91 L422.34,215.53 L423.00,213.78 L423.65,212.77 L424.30,213.15 L424.95,212.73 L425.60,210.52 L426.33,208.80 L427.07,205.59 L427.80,203.87 L428.41,204.53 L429.02,204.33 L429.64,201.92 L430.25,203.38 L430.86,203.02 L431.48,202.59 L432.09,202.98 L432.70,199.35 L433.30,201.35 L433.90,202.69 L434.50,201.74 L435.10,202.21 L435.70,203.54 L436.30,204.00 L436.90,205.61 L437.50,207.05 L438.11,208.81 L438.73,208.55 L439.34,207.31 L439.95,207.21 L440.56,207.11 L441.17,208.25 L441.79,208.68 L442.40,208.49 L443.04,209.21 L443.68,208.47 L444.32,209.10 L444.96,208.35 L445.60,210.25 L446.24,211.79 L446.88,210.77 L447.52,212.20 L448.16,213.07 L448.80,212.94 L449.65,209.68 L450.50,207.40 L451.30,213.43 L452.10,218.30" fill="none" stroke="#2a45a8" stroke-width="1.2"/>
<path d="M428.2,198.3 L436.2,206.3 M428.2,206.3 L436.2,198.3" stroke="#1e8a3c" stroke-width="3.0" stroke-linecap="butt"/>
<text x="378.6" y="206.6" font-size="10.8" fill="#1f9a48" font-weight="normal" textLength="6.0" lengthAdjust="spacingAndGlyphs"  stroke="#1f9a48" stroke-width="0.3">β</text>
<text x="385.0" y="208.6" font-size="8.8" fill="#1f9a48" font-weight="normal" textLength="5.4" lengthAdjust="spacingAndGlyphs"  stroke="#1f9a48" stroke-width="0.3">2</text>
<text x="393.8" y="206.6" font-size="9.8" fill="#1f9a48" font-weight="normal" textLength="6.4" lengthAdjust="spacingAndGlyphs"  stroke="#1f9a48" stroke-width="0.3">&gt;</text>
<text x="405.2" y="206.4" font-size="10.6" fill="#1f9a48" font-weight="normal" textLength="5.9" lengthAdjust="spacingAndGlyphs"  stroke="#1f9a48" stroke-width="0.3">0</text>
<text x="344.9" y="178.4" font-size="9.8" fill="#222" font-weight="normal" textLength="7.0" lengthAdjust="spacingAndGlyphs" >β</text>
<text x="352.0" y="179.0" font-size="7.0" fill="#111" font-weight="bold" textLength="5.3" lengthAdjust="spacingAndGlyphs" >2</text>
<text x="359.6" y="178.0" font-size="10.0" fill="#111" font-weight="bold" textLength="16.6" lengthAdjust="spacingAndGlyphs" >(ps</text>
<text x="377.0" y="174.8" font-size="6.8" fill="#111" font-weight="bold" textLength="5.0" lengthAdjust="spacingAndGlyphs" >2</text>
<text x="382.8" y="178.0" font-size="10.0" fill="#111" font-weight="bold" textLength="31.9" lengthAdjust="spacingAndGlyphs" >/mm)</text>
<polygon points="348.3,184.3 354.09999999999997,184.3 351.2,189.0" fill="#111"/>
<rect x="489.9" y="196.5" width="95.10000000000002" height="104.30000000000001" fill="none" stroke="#8a8a8a" stroke-width="1"/>
<line x1="489.9" y1="237.8" x2="585.0" y2="237.8" stroke="#c8c8c8" stroke-width="0.8" />
<line x1="506.7" y1="300.8" x2="506.7" y2="297.8" stroke="#8a8a8a" stroke-width="1" />
<line x1="535.4" y1="300.8" x2="535.4" y2="297.8" stroke="#8a8a8a" stroke-width="1" />
<line x1="562.5" y1="300.8" x2="562.5" y2="297.8" stroke="#8a8a8a" stroke-width="1" />
<line x1="489.9" y1="217.2" x2="492.9" y2="217.2" stroke="#8a8a8a" stroke-width="1" />
<line x1="489.9" y1="237.9" x2="492.9" y2="237.9" stroke="#8a8a8a" stroke-width="1" />
<line x1="489.9" y1="258.6" x2="492.9" y2="258.6" stroke="#8a8a8a" stroke-width="1" />
<line x1="489.9" y1="279.3" x2="492.9" y2="279.3" stroke="#8a8a8a" stroke-width="1" />
<text x="486.0" y="200.1" font-size="10" fill="#444" font-weight="normal" text-anchor="end">2</text>
<text x="486.0" y="220.8" font-size="10" fill="#444" font-weight="normal" text-anchor="end">1</text>
<text x="486.0" y="241.5" font-size="10" fill="#444" font-weight="normal" text-anchor="end">0</text>
<text x="486.0" y="262.2" font-size="10" fill="#444" font-weight="normal" text-anchor="end">-1</text>
<text x="486.0" y="282.9" font-size="10" fill="#444" font-weight="normal" text-anchor="end">-2</text>
<text x="486.0" y="303.6" font-size="10" fill="#444" font-weight="normal" text-anchor="end">-3</text>
<text x="506.7" y="312.3" font-size="10" fill="#444" font-weight="normal" textLength="22.0" lengthAdjust="spacingAndGlyphs" text-anchor="middle">1540</text>
<text x="535.4" y="312.3" font-size="10" fill="#444" font-weight="normal" textLength="22.0" lengthAdjust="spacingAndGlyphs" text-anchor="middle">1545</text>
<text x="562.5" y="312.3" font-size="10" fill="#444" font-weight="normal" textLength="22.0" lengthAdjust="spacingAndGlyphs" text-anchor="middle">1550</text>
<text x="485.0" y="328.3" font-size="10.8" fill="#1a1a1a" font-weight="bold" textLength="101.5" lengthAdjust="spacingAndGlyphs" >Wavelength (nm)</text>
<path d="M490.20,238.63 L490.81,237.93 L491.42,241.59 L492.03,238.25 L492.64,239.27 L493.26,240.27 L493.87,241.27 L494.48,240.13 L495.09,240.29 L495.70,239.29 L496.34,238.17 L496.98,240.45 L497.61,239.65 L498.25,237.23 L498.89,239.08 L499.52,239.10 L500.16,240.02 L500.80,242.07 L501.45,241.34 L502.10,239.82 L502.75,240.27 L503.40,239.26 L504.05,237.24 L504.70,239.12 L505.35,237.88 L506.00,236.72 L506.68,234.71 L507.36,232.33 L508.04,230.87 L508.72,232.36 L509.40,228.14 L510.10,227.95 L510.80,227.24 L511.50,224.49 L512.20,224.28 L512.90,222.92 L513.58,220.07 L514.26,219.70 L514.94,216.89 L515.62,216.74 L516.30,215.27 L517.00,215.83 L517.70,213.22 L518.40,212.40 L519.10,211.41 L519.80,210.04 L520.40,209.79 L521.00,206.94 L521.60,204.55 L522.20,204.92 L522.88,207.23 L523.55,208.69 L524.23,210.27 L524.90,213.59 L525.60,211.50 L526.30,210.14 L527.00,212.76 L527.70,212.46 L528.40,211.90 L529.08,213.60 L529.76,214.01 L530.44,215.63 L531.12,217.41 L531.80,219.44 L532.45,218.89 L533.10,220.21 L533.75,222.08 L534.40,223.15 L535.05,224.84 L535.70,222.77 L536.35,221.33 L537.00,222.24 L537.68,224.25 L538.36,227.27 L539.04,226.65 L539.72,229.68 L540.40,230.73 L541.10,230.81 L541.80,235.61 L542.50,236.23 L543.20,238.82 L543.90,242.50 L544.58,243.63 L545.26,246.58 L545.94,245.97 L546.62,250.47 L547.30,251.21 L548.00,254.74 L548.70,258.38 L549.40,260.69 L550.10,263.21 L550.80,266.43 L551.48,266.44 L552.16,267.74 L552.84,270.99 L553.52,275.89 L554.20,278.99 L554.90,281.53 L555.60,285.18 L556.30,289.56 L557.00,294.89 L557.80,290.09 L558.60,289.23 L559.40,287.31 L560.20,286.71 L561.00,289.01 L561.80,291.28 L562.48,290.21 L563.16,288.99 L563.84,284.15 L564.52,278.06 L565.20,275.77 L565.90,272.91 L566.60,271.65 L567.30,267.58 L568.00,264.71 L568.70,259.70 L569.38,257.78 L570.06,255.30 L570.74,253.94 L571.42,252.94 L572.10,248.99 L572.73,240.20 L573.35,228.39 L573.98,216.60 L574.60,205.97 L575.60,211.32 L576.30,209.11 L577.00,206.90 L577.70,204.54 L578.40,204.91 L579.10,205.85 L579.80,209.97 L580.50,209.71 L581.20,211.30 L581.90,212.47 L583.00,221.72 L584.00,223.25 L584.80,240.50" fill="none" stroke="#2a45a8" stroke-width="1.2"/>
<path d="M557.4,281.3 L565.4,289.3 M557.4,289.3 L565.4,281.3" stroke="#1e8a3c" stroke-width="3.0" stroke-linecap="butt"/>
<text x="507.2" y="274.4" font-size="10.8" fill="#1f9a48" font-weight="normal" textLength="6.0" lengthAdjust="spacingAndGlyphs"  stroke="#1f9a48" stroke-width="0.3">β</text>
<text x="513.1" y="275.4" font-size="8.8" fill="#1f9a48" font-weight="normal" textLength="6.2" lengthAdjust="spacingAndGlyphs"  stroke="#1f9a48" stroke-width="0.3">4</text>
<text x="521.5" y="274.4" font-size="9.8" fill="#1f9a48" font-weight="normal" textLength="6.8" lengthAdjust="spacingAndGlyphs"  stroke="#1f9a48" stroke-width="0.3">&lt;</text>
<text x="532.9" y="274.4" font-size="10.6" fill="#1f9a48" font-weight="normal" textLength="6.2" lengthAdjust="spacingAndGlyphs"  stroke="#1f9a48" stroke-width="0.3">0</text>
<text x="476.9" y="178.4" font-size="9.8" fill="#222" font-weight="normal" textLength="6.9" lengthAdjust="spacingAndGlyphs" >β</text>
<text x="483.7" y="179.0" font-size="7.0" fill="#111" font-weight="bold" textLength="5.6" lengthAdjust="spacingAndGlyphs" >4</text>
<text x="490.4" y="178.0" font-size="10.0" fill="#111" font-weight="bold" textLength="17.0" lengthAdjust="spacingAndGlyphs" >(ps</text>
<text x="508.4" y="174.8" font-size="6.8" fill="#111" font-weight="bold" textLength="5.2" lengthAdjust="spacingAndGlyphs" >4</text>
<text x="514.1" y="178.0" font-size="10.0" fill="#111" font-weight="bold" textLength="32.0" lengthAdjust="spacingAndGlyphs" >/mm)</text>
<polygon points="480.1,184.3 485.9,184.3 483.0,189.0" fill="#111"/>
</svg>
</body></html>
